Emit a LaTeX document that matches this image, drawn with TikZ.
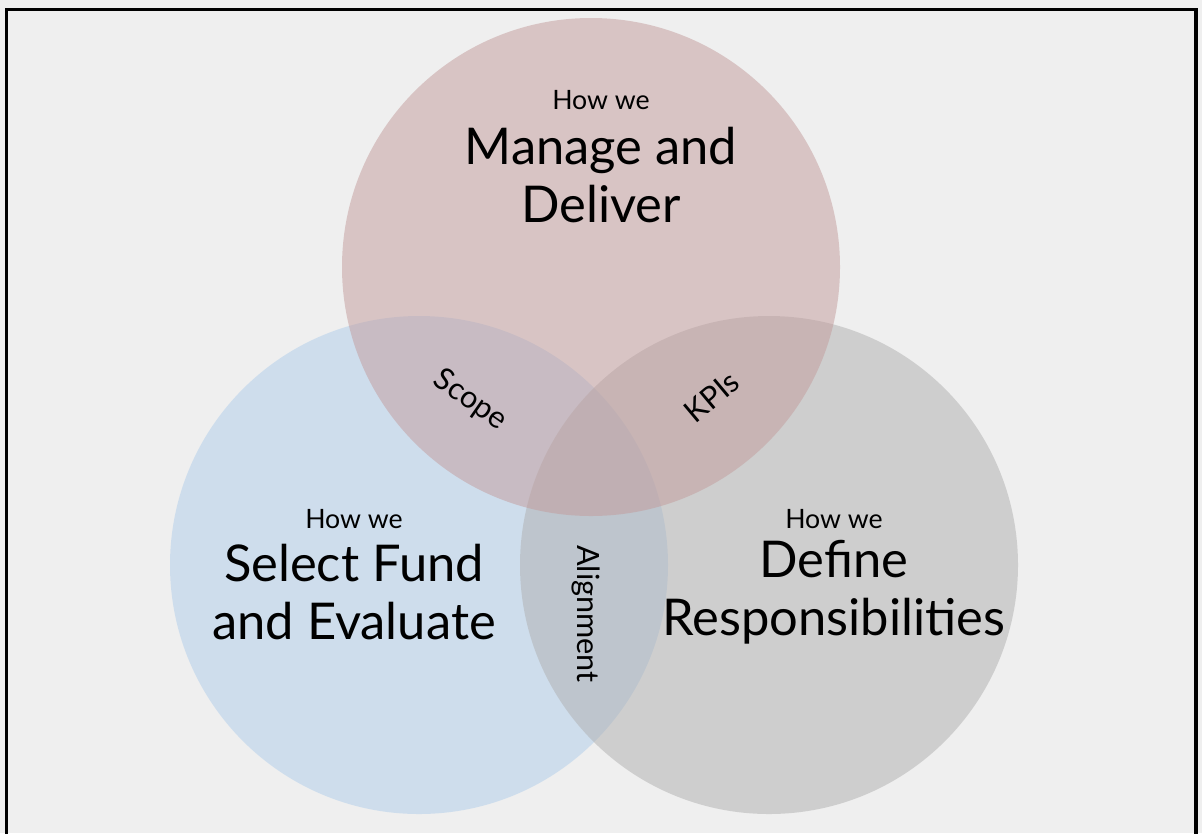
\documentclass[tikz,border=0pt]{standalone}
\usepackage{fontspec}
\setmainfont{Lato}
\definecolor{bgGrey}{RGB}{239,239,239}
\definecolor{manageRed}{RGB}{195,155,155}
\definecolor{selectBlue}{RGB}{175,205,235}
\definecolor{defineGrey}{RGB}{175,175,175}
\tikzset{
  howwe/.style={font=\fontsize{20}{24}\selectfont, align=center},
  bigtitle/.style={font=\fontsize{38}{43.5}\selectfont, align=center},
  overlap/.style={font=\fontsize{23}{26}\selectfont}
}
\begin{document}
\begin{tikzpicture}[x=0.75pt,y=0.75pt,yscale=-1,xscale=1]

\useasboundingbox (0, 0) rectangle (1202, 833);
\fill [bgGrey] (0, 0) rectangle (1202, 833);
\draw [line width=2.4pt,black] (6.5, 9.5) rectangle (1196, 850);

% three circles
\fill [selectBlue, fill opacity=0.5] (419, 565) circle (249);
\fill [defineGrey, fill opacity=0.5] (769, 565) circle (249);
\fill [manageRed, fill opacity=0.5] (591, 267) circle (249);

% top circle
\node [howwe] (mhow) at (601, 100) {How we};
\node [bigtitle] (manage) at (601, 175) {Manage and\\Deliver};

% left circle
\node [howwe] (show) at (354, 519) {How we};
\node [bigtitle] (select) at (354, 592) {Select Fund\\and Evaluate};

% right circle
\node [howwe] (dhow) at (834, 519) {How we};
\node [bigtitle] (define) at (834, 592) {Define\\Responsibilities};

% overlaps
\node [overlap, rotate=-35] (scope) at (470, 400) {Scope};
\node [overlap, rotate=40] (kpis) at (712, 397) {KPIs};
\node [overlap, rotate=-90] (align) at (586, 614) {Alignment};

\end{tikzpicture}
\end{document}
